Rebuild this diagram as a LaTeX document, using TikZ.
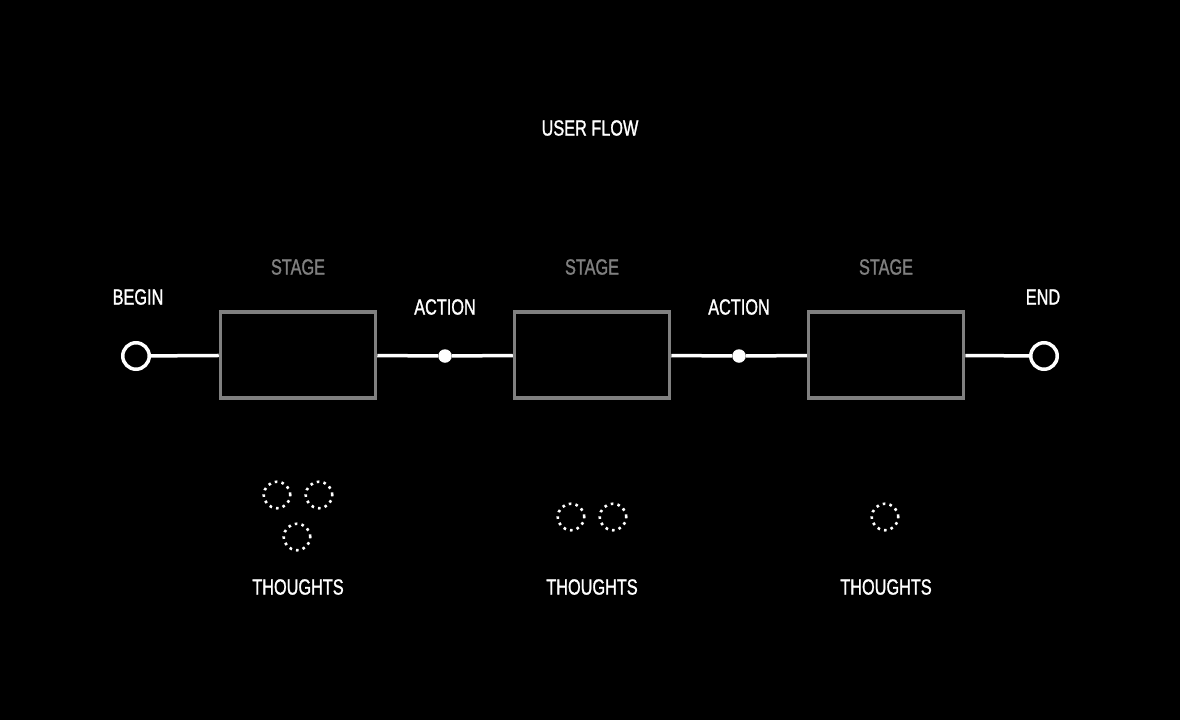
\documentclass[tikz,border=0pt]{standalone}
\usepackage{fontspec}
\setmainfont{Liberation Sans}[FakeStretch=0.74, FakeBold=1.2]
\usepackage{xcolor}
\usepackage{tikz}

\definecolor{stagegray}{RGB}{128,128,128}

\begin{document}
\begin{tikzpicture}[x=1pt, y=-1pt,
		endpoint/.style={circle, draw=white, line width=3.5pt, fill=black, minimum size=26.5pt, inner sep=0pt},
		actiondot/.style={circle, fill=white, minimum size=13.5pt, inner sep=0pt},
		stagebox/.style={rectangle, draw=stagegray, line width=3.5pt, fill=black, minimum width=155pt, minimum height=86pt, inner sep=0pt},
		thought/.style={circle, draw=white, line width=2.6pt, dash pattern=on 2.6pt off 4.2pt, minimum size=26.5pt, inner sep=0pt},
		lbl/.style={text=white, font=\fontsize{22}{26}\selectfont, inner sep=0pt},
		stagelbl/.style={lbl, text=stagegray}]
				\fill[black] (0,0) rectangle (1180,720);
				\useasboundingbox (0,0) rectangle (1180,720);

				\node[lbl] (title) at (590,128) {USER FLOW};

				% main line
				\node[endpoint] (begin) at (136,356) {};
				\node[stagebox] (stage1) at (298,355) {};
				\node[actiondot] (action1) at (445,356) {};
				\node[stagebox] (stage2) at (592,355) {};
				\node[actiondot] (action2) at (739,356) {};
				\node[stagebox] (stage3) at (886,355) {};
				\node[endpoint] (end) at (1044,356) {};

				\draw[white, line width=3.5pt] (begin) -- (stage1);
				\draw[white, line width=3.5pt] (stage1) -- (action1) -- (stage2);
				\draw[white, line width=3.5pt] (stage2) -- (action2) -- (stage3);
				\draw[white, line width=3.5pt] (stage3) -- (end);

				\node[lbl] (beginlbl) at (138,297) {BEGIN};
				\node[lbl] (action1lbl) at (445,307) {ACTION};
				\node[lbl] (action2lbl) at (739,307) {ACTION};
				\node[lbl] (endlbl) at (1043,297) {END};

				\node[stagelbl] (stage1lbl) at (298,267) {STAGE};
				\node[stagelbl] (stage2lbl) at (592,267) {STAGE};
				\node[stagelbl] (stage3lbl) at (886,267) {STAGE};

				% thoughts
				\node[thought] (t1a) at (277,495) {};
				\node[thought] (t1b) at (319,495) {};
				\node[thought] (t1c) at (297,537) {};
				\node[thought] (t2a) at (571,517) {};
				\node[thought] (t2b) at (613,517) {};
				\node[thought] (t3a) at (885,517) {};

				\node[lbl] (thoughts1) at (298,587) {THOUGHTS};
				\node[lbl] (thoughts2) at (592,587) {THOUGHTS};
				\node[lbl] (thoughts3) at (886,587) {THOUGHTS};
			\end{tikzpicture}
\end{document}
